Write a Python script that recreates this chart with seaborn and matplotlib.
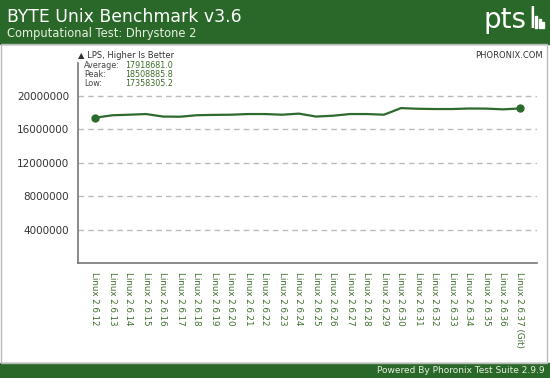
import seaborn as sns
import matplotlib.pyplot as plt
import pandas as pd
from matplotlib.patches import Rectangle

kernels = ['Linux 2.6.12', 'Linux 2.6.13', 'Linux 2.6.14', 'Linux 2.6.15', 'Linux 2.6.16',
           'Linux 2.6.17', 'Linux 2.6.18', 'Linux 2.6.19', 'Linux 2.6.20', 'Linux 2.6.21',
           'Linux 2.6.22', 'Linux 2.6.23', 'Linux 2.6.24', 'Linux 2.6.25', 'Linux 2.6.26',
           'Linux 2.6.27', 'Linux 2.6.28', 'Linux 2.6.29', 'Linux 2.6.30', 'Linux 2.6.31',
           'Linux 2.6.32', 'Linux 2.6.33', 'Linux 2.6.34', 'Linux 2.6.35', 'Linux 2.6.36',
           'Linux 2.6.37 (Git)']
lps = [17358305.2, 17650000, 17720000, 17800000, 17500000,
       17480000, 17660000, 17700000, 17720000, 17800000,
       17800000, 17720000, 17850000, 17500000, 17600000,
       17800000, 17800000, 17720000, 18508885.8, 18430000,
       18400000, 18400000, 18460000, 18450000, 18360000,
       18470000]
yticks = [4000000, 8000000, 12000000, 16000000, 20000000]
stats = [('Average:', '17918681.0'), ('Peak:', '18508885.8'), ('Low:', '17358305.2')]

green = '#2a682a'
line_green = '#2d6a2d'
tick_green = '#3d6e2a'

sns.set_style('white')
plt.rcParams['font.family'] = ['DejaVu Sans']

df = pd.DataFrame({'kernel': kernels, 'lps': lps})

fig = plt.figure(figsize=(5.5, 3.78), dpi=100)
ax = fig.add_axes([78/550, 1-263/378, (537-78)/550, (263-63)/378])

sns.lineplot(data=df, x='kernel', y='lps', ax=ax, color=line_green, linewidth=1.6,
             marker='o', markersize=6, markevery=[0, len(lps)-1], markeredgewidth=0)

ax.set_xlim(-1, len(kernels))
ax.set_ylim(0, 23900000)
ax.set_yticks(yticks)
ax.set_yticklabels([str(v) for v in yticks], fontsize=7.5, color='#333333')
ax.set_xticks(range(len(kernels)))
ax.set_xticklabels(kernels, rotation=270, fontsize=6.3, color=tick_green, va='top', ha='center')
ax.set_xlabel('')
ax.set_ylabel('')
for v in yticks:
    ax.axhline(v, color='#bbbbbb', linestyle=(0, (4, 3)), linewidth=1, zorder=0)
ax.tick_params(axis='both', direction='inout', length=7, width=1, color='#777777', pad=3)
for s in ['top', 'right']:
    ax.spines[s].set_visible(False)
for s in ['left', 'bottom']:
    ax.spines[s].set_color('#777777')
    ax.spines[s].set_linewidth(1.2)

# header and footer bands
fig.patches.append(Rectangle((0, 1-44/378), 1, 44/378, transform=fig.transFigure,
                             color=green, zorder=0))
fig.patches.append(Rectangle((0, 0), 1, 15/378, transform=fig.transFigure,
                             color=green, zorder=0))
fig.patches.append(Rectangle((1/550, 15/378), 546/550, (378-59)/378, transform=fig.transFigure,
                             fill=False, edgecolor='#bbbbbb', linewidth=1, zorder=0))

fig.text(7/550, 1-17/378, 'BYTE Unix Benchmark v3.6', color='white', fontsize=12.4, va='center')
fig.text(7/550, 1-34/378, 'Computational Test: Dhrystone 2', color='#e8f0e0', fontsize=8.3, va='center')

# pts logo
fig.text(483/550, 1-28/378, 'pts', color='white', fontsize=20, va='baseline', ha='left')
fig.text(528/550, 1-28/378, 'l', color='white', fontsize=20, va='baseline', ha='left')
for i, h in enumerate([12, 9, 6]):
    fig.patches.append(Rectangle(((535 + i*3.5)/550, 1-28/378), 2/550, h/378,
                                 transform=fig.transFigure, color='white'))

fig.text(78/550, 1-55/378, '\u25b2 LPS, Higher Is Better', color='#333333', fontsize=6, va='center')
fig.text(543/550, 1-55/378, 'PHORONIX.COM', color='#333333', fontsize=6, va='center', ha='right')
for i, (k, v) in enumerate(stats):
    fig.text(84/550, 1-(65+9.5*i)/378, k, color='#444444', fontsize=5.8, va='center')
    fig.text(125/550, 1-(65+9.5*i)/378, v, color=tick_green, fontsize=5.8, va='center')

fig.text(545/550, 7.5/378, 'Powered By Phoronix Test Suite 2.9.9', color='#e8f0e0',
         fontsize=6.5, va='center', ha='right')

fig.savefig('out.png', dpi=100)
